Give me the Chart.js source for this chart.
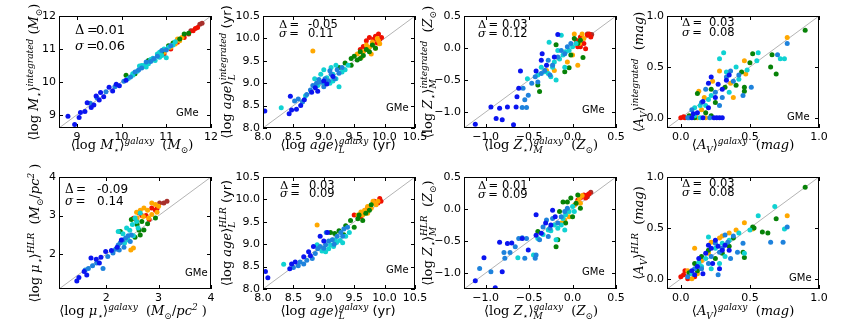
<!DOCTYPE html>
<html>
<head>
<meta charset="utf-8">
<script src="https://cdn.jsdelivr.net/npm/chart.js@4.4.1/dist/chart.umd.min.js"></script>
<style>
  body { margin: 0; background: #fff; }
  #fig { position: relative; width: 845px; height: 323px; overflow: hidden; }
  canvas { position: absolute; }
  .lab { position: absolute; white-space: nowrap; font-family: "DejaVu Serif", serif; font-size: 13px; line-height: 1; color: #000; }
  .lab i { font-style: italic; }
  .lab sup, .lab sub { font-size: 9px; font-style: italic; }
  .ss { display: inline-flex; flex-direction: column; vertical-align: 5px; font-size: 9px; font-style: italic; line-height: 9px; }
  .sans { font-family: "DejaVu Sans", sans-serif; font-style: normal; }
  .note { position: absolute; white-space: nowrap; font-family: "DejaVu Sans", sans-serif; color: #000; line-height: 1; }
  .gme { position: absolute; font-family: "DejaVu Sans", sans-serif; font-size: 10px; color: #000; line-height: 1; }
</style>
</head>
<body>
<div id="fig"></div>
<script>
// colour groups used in every panel
const groupColors = ['#0a14f0', '#1e82dc', '#10d2d2', '#078207', '#ffa800', '#f01000', '#a8302c'];

// axis limits and ticks
const massLim = [8.6, 12];    const massTicks = [9, 10, 11, 12];
const ageLim = [8, 10.5];     const ageTicks = [8, 8.5, 9, 9.5, 10, 10.5];
const zLim = [-1.25, 0.5];    const zTicks = [-1, -0.5, 0, 0.5];
const avLim = [-0.1, 1];      const avTicks = [0, 0.5, 1];
const muLim = [1.1, 4];       const muTicks = [2, 3, 4];

const deltaVals = ['0.01', '-0.05', '0.03', '0.03', '-0.09', '0.03', '0.01', '0.03'];
const sigmaVals = ['0.06', '0.11', '0.12', '0.08', '0.14', '0.09', '0.09', '0.08'];

// points: [galaxy, integrated/HLR, colour group]
const massInt = [
  [8.80,8.96,0],[8.95,8.71,0],[9.05,8.92,0],[9.08,9.07,0],[9.18,9.10,0],[9.23,9.37,0],[9.32,9.22,0],[9.38,9.30,0],
  [9.43,9.57,0],[9.50,9.45,0],[9.53,9.68,0],[9.60,9.55,0],[9.72,9.84,0],[9.80,9.72,0],[9.88,9.93,0],[9.95,9.88,0],[10.10,10.05,0],
  [9.30,9.35,1],[9.45,9.52,1],[9.65,9.70,1],[9.85,9.85,1],[10.05,10.02,1],[10.2,10.15,1],[10.3,10.3,1],[10.45,10.42,1],
  [10.55,10.6,1],[10.65,10.62,1],[10.8,10.78,1],[10.9,10.95,1],[11.0,10.97,1],[11.1,11.1,1],[10.38,10.36,1],[10.72,10.7,1],
  [10.15,10.1,2],[10.25,10.25,2],[10.35,10.32,2],[10.4,10.48,2],[10.5,10.5,2],[10.6,10.55,2],[10.7,10.72,2],[10.75,10.65,2],
  [10.8,10.85,2],[10.85,10.9,2],[10.9,10.8,2],[10.95,11.0,2],[11.0,10.73,2],[10.85,10.75,2],[11.05,11.05,2],[11.15,11.12,2],
  [11.2,11.22,2],[10.55,10.45,2],[10.25,10.2,2],[10.65,10.68,2],[10.45,10.5,2],
  [10.1,10.2,3],[10.3,10.25,3],[10.6,10.65,3],[10.9,10.92,3],[11.05,11.1,3],[11.15,11.18,3],[11.3,11.3,3],[11.4,11.45,3],[11.5,11.48,3],
  [10.95,10.9,4],[11.1,11.05,4],[11.2,11.15,4],[11.25,11.3,4],[11.35,11.35,4],[11.3,11.25,4],
  [10.95,10.85,5],[11.1,11.0,5],[11.25,11.2,5],[11.4,11.35,5],[11.5,11.45,5],[11.6,11.55,5],[11.65,11.62,5],[11.7,11.65,5],
  [11.55,11.55,6],[11.75,11.75,6],[11.8,11.78,6]
];
const ageInt = [
  [8.03,8.38,0],[8.43,8.32,0],[8.47,8.40,0],[8.45,8.71,0],[8.55,8.42,0],[8.62,8.50,0],[8.68,8.63,0],[8.80,8.80,0],
  [8.86,8.90,0],[8.90,8.82,0],[9.0,9.05,0],[9.05,8.98,0],[9.15,9.15,0],
  [8.52,8.60,1],[8.58,8.65,1],[8.65,8.58,1],[8.72,8.75,1],[8.78,8.85,1],[8.82,8.95,1],[8.88,9.0,1],[8.95,9.02,1],[9.0,8.92,1],
  [9.02,9.1,1],[9.08,9.05,1],[9.12,9.2,1],[9.18,9.1,1],[9.22,9.3,1],[9.25,9.22,1],[9.3,9.35,1],[8.92,9.08,1],[9.1,9.28,1],
  [8.3,8.45,2],[8.7,8.72,2],[8.85,9.1,2],[8.9,8.95,2],[8.95,9.2,2],[9.0,9.0,2],[9.05,9.12,2],[9.1,9.0,2],[9.15,9.05,2],
  [9.2,9.1,2],[9.25,8.92,2],[9.12,9.35,2],[9.2,9.4,2],[9.3,9.25,2],[9.35,9.3,2],[9.4,9.4,2],[9.0,9.3,2],[9.15,9.2,2],
  [9.25,9.35,3],[9.35,9.45,3],[9.45,9.55,3],[9.5,9.6,3],[9.55,9.52,3],[9.6,9.7,3],[9.65,9.62,3],[9.7,9.75,3],[9.75,9.7,3],
  [9.8,9.85,3],[9.45,9.4,3],[9.85,9.78,3],[9.6,9.55,3],
  [8.82,9.72,4],[9.55,9.65,4],[9.62,9.58,4],[9.7,9.85,4],[9.75,9.8,4],[9.8,9.92,4],[9.85,9.78,4],[9.9,9.95,4],[9.65,9.7,4],
  [9.78,9.65,4],[9.92,9.88,4],[9.88,10.0,4],
  [9.65,9.82,5],[9.7,9.95,5],[9.75,10.02,5],[9.8,9.88,5],[9.85,10.05,5],[9.9,10.1,5],[9.92,9.98,5],[9.95,10.02,5],[9.82,9.98,5],
  [9.88,9.9,5],[9.6,9.75,5]
];
const zInt = [
  [-1.12,-1.19,0],[-0.94,-0.92,0],[-0.88,-1.10,0],[-0.81,-1.12,0],[-0.84,-0.94,0],[-0.75,-0.92,0],[-0.68,-1.2,0],[-0.65,-0.92,0],
  [-0.64,-0.76,0],[-0.62,-0.63,0],[-0.6,-0.36,0],[-0.42,-0.36,0],[-0.36,-0.19,0],[-0.35,-0.09,0],[-0.17,0.21,0],[-0.21,-0.14,0],[-0.3,-0.27,0],
  [-0.58,-0.93,1],[-0.55,-0.81,1],[-0.57,-0.63,1],[-0.51,-0.74,1],[-0.53,-0.93,1],[-0.43,-0.45,1],[-0.4,-0.53,1],[-0.32,-0.35,1],
  [-0.26,-0.42,1],[-0.23,-0.27,1],[-0.28,-0.19,1],[-0.17,-0.14,1],[-0.13,-0.04,1],[-0.09,-0.09,1],[-0.06,0.02,1],[-0.02,0.07,1],
  [-0.36,-0.4,1],[-0.47,-0.55,1],
  [-0.52,-0.48,2],[-0.27,0.09,2],[-0.13,0.2,2],[-0.23,-0.3,2],[-0.25,-0.45,2],[-0.19,-0.5,2],[-0.28,-0.4,2],[-0.32,-0.37,2],
  [-0.21,-0.22,2],[-0.15,-0.17,2],[-0.11,-0.11,2],[-0.08,-0.06,2],[-0.04,-0.04,2],[0.0,0.02,2],[0.04,0.07,2],[-0.17,-0.04,2],
  [-0.36,-0.3,2],[-0.4,-0.42,2],[-0.09,-0.3,2],
  [-0.19,0.05,3],[-0.4,-0.58,3],[-0.38,-0.68,3],[-0.09,-0.37,3],[-0.04,-0.31,3],[0.09,0.12,3],[0.12,-0.15,3],[0.06,0.07,3],
  [0.02,0.15,3],[-0.02,-0.11,3],
  [-0.3,-0.35,4],[-0.21,-0.35,4],[0.06,-0.27,4],[0.02,0.22,4],[0.11,0.22,4],[0.08,0.07,4],[-0.06,-0.22,4],[0.0,-0.11,4],[0.13,0.15,4],
  [0.04,0.12,5],[0.09,0.17,5],[0.13,0.07,5],[0.17,0.2,5],[0.19,0.22,5],[0.09,0.02,5],[0.15,-0.01,5],[0.06,0.02,5],[0.21,0.17,5],
  [0.17,0.22,6],[0.22,0.21,6]
];
const avInt = [
  [0.28,0,0],[0.3,0,0],[0.26,0,0],[0.24,0,0],[0.2,0.1,0],[0.27,0.33,0],[0.3,0.28,0],[0.35,0.42,0],[0.2,0.34,0],[0.12,0.05,0],
  [0.16,0.16,0],[0.09,0.04,0],[0.22,0.4,0],[0.33,0.37,0],[0.08,0,0],[0.16,0,0],[0.25,0.2,0],
  [0.77,0.73,1],[0.7,0.62,1],[0.51,0.3,1],[0.06,0,1],[0.15,0.15,1],[0.33,0.4,1],[0.38,0.36,1],[0.08,0.08,1],[0.25,0.25,1],
  [0.3,0.2,1],[0.42,0.42,1],[0.45,0.22,1],[0.18,0.28,1],[0.36,0.46,1],[0.21,0,1],[0.05,0,1],[0.28,0.12,1],
  [0.75,0.58,2],[0.72,0.58,2],[0.56,0.64,2],[0.55,0.56,2],[0.31,0.64,2],[0.28,0.58,2],[0.48,0.47,2],[0.1,0.02,2],[0.2,0.18,2],
  [0.33,0.45,2],[0.42,0.38,2],[0.1,0.1,2],[0.22,0.22,2],[0.35,0.25,2],[0.4,0.5,2],[0.14,0.12,2],[0.14,0,2],[0.18,0.12,2],
  [0.9,0.86,3],[0.69,0.43,3],[0.65,0.5,3],[0.66,0.62,3],[0.52,0.63,3],[0.5,0.54,3],[0.46,0.26,3],[0.46,0.3,3],[0.22,0.02,3],
  [0.18,0.05,3],[0.25,0.15,3],[0.4,0.32,3],[0.22,0.28,3],[0.12,0.24,3],[0.44,0.45,3],[0.06,0.02,3],[0.1,0,3],[0.32,0.3,3],
  [0.77,0.79,4],[0.46,0.56,4],[0.47,0.43,4],[0.12,0,4],[0.17,0.2,4],[0.28,0.46,4],[0.36,0.34,4],[0.23,0.36,4],[0.13,0.26,4],
  [0.15,0.08,4],[0.38,0.2,4],[0.18,0,4],
  [0.0,0,5],[0.03,0,5],[0.02,0.01,5]
];
const muHlr = [
  [1.44,1.31,0],[1.48,1.40,0],[1.58,1.55,0],[1.63,1.46,0],[1.71,1.90,0],[1.81,1.87,0],[1.90,1.92,0],[1.99,2.07,0],[2.10,2.10,0],
  [1.87,1.77,0],[2.21,2.18,0],[2.29,2.37,0],
  [1.60,1.59,1],[1.66,1.63,1],[1.74,1.70,1],[1.82,1.77,1],[1.94,1.63,1],[2.03,1.94,1],[2.13,2.03,1],[2.18,2.13,1],[2.23,2.24,1],
  [2.27,2.30,1],[2.32,2.37,1],[2.37,2.42,1],[2.42,2.48,1],[2.46,2.33,1],[2.34,2.18,1],[2.25,2.11,1],[2.48,2.5,1],
  [2.23,2.59,2],[2.32,2.53,2],[2.39,2.68,2],[2.45,2.62,2],[2.52,2.48,2],[2.50,2.77,2],[2.58,2.85,2],[2.42,2.37,2],[2.35,2.29,2],
  [2.61,2.68,2],[2.55,2.94,2],[2.65,3.07,2],
  [2.27,2.59,3],[2.55,2.44,3],[2.59,2.77,3],[2.63,2.62,3],[2.68,2.85,3],[2.72,2.63,3],[2.79,2.79,3],[2.94,2.94,3],[2.65,2.50,3],[2.48,2.90,3],
  [2.52,2.16,4],[2.47,2.11,4],[2.59,2.94,4],[2.58,3.09,4],[2.65,3.14,4],[2.72,3.2,4],[2.79,3.14,4],[2.87,3.03,4],[2.97,3.09,4],
  [3.0,3.24,4],[2.87,3.33,4],[2.94,3.29,4],[2.81,2.94,4],[2.71,2.98,4],
  [2.52,2.93,5],[2.58,2.90,5],[2.68,3.0,5],[2.76,3.0,5],[2.82,2.90,5],[2.87,3.2,5],[2.94,3.14,5],[2.97,3.18,5],[2.63,3.07,5],
  [3.02,3.33,6],[3.10,3.33,6],[3.16,3.37,6]
];
const ageHlr = [
  [8.04,8.39,0],[8.08,8.25,0],[8.44,8.45,0],[8.47,8.56,0],[8.53,8.60,0],[8.67,8.72,0],[8.75,8.83,0],[8.78,8.74,0],[8.83,8.95,0],
  [8.94,9.18,0],[9.0,9.07,0],[9.06,9.26,0],
  [8.5,8.48,1],[8.58,8.52,1],[8.61,8.60,1],[8.67,8.56,1],[8.72,8.64,1],[8.81,8.68,1],[8.86,8.79,1],[8.9,8.9,1],[8.94,8.95,1],
  [9.0,8.91,1],[9.03,8.99,1],[9.08,9.07,1],[9.14,9.1,1],[9.17,9.0,1],[9.22,9.18,1],[9.28,9.26,1],[9.31,9.18,1],[9.33,9.34,1],
  [9.39,9.38,1],[9.04,9.26,1],
  [8.34,8.55,2],[8.89,8.99,2],[8.97,8.85,2],[9.03,8.83,2],[9.08,8.9,2],[9.11,8.99,2],[9.16,8.95,2],[9.21,9.04,2],[9.27,9.08,2],
  [9.31,9.03,2],[9.36,9.18,2],[9.42,9.26,2],[9.19,9.1,2],
  [9.11,9.26,3],[9.18,9.24,3],[9.25,9.3,3],[9.33,9.21,3],[9.36,9.41,3],[9.44,9.53,3],[9.5,9.38,3],[9.56,9.57,3],[9.64,9.53,3],
  [9.69,9.69,3],[9.75,9.76,3],[9.58,9.65,3],[9.78,9.88,3],
  [8.89,9.43,4],[9.56,9.65,4],[9.61,9.72,4],[9.67,9.76,4],[9.72,9.84,4],[9.78,9.8,4],[9.83,9.92,4],[9.86,9.88,4],[9.89,9.96,4],
  [9.81,9.96,4],[9.72,9.69,4],[9.64,9.65,4],
  [9.5,9.65,5],[9.61,9.61,5],[9.72,9.8,5],[9.83,9.96,5],[9.92,10.02,5],[9.89,9.92,5],[9.94,9.96,5]
];
const zHlr = [
  [-1.12,-1.12,0],[-1.02,-0.76,0],[-0.89,-1.23,0],[-0.84,-0.52,0],[-0.81,-0.98,0],[-0.75,-0.54,0],[-0.7,-0.53,0],[-0.58,-0.46,0],
  [-0.51,-0.64,0],[-0.42,-0.41,0],[-0.36,-0.38,0],[-0.42,-0.09,0],[-0.25,-0.25,0],[-0.2,-0.12,0],[-0.23,-0.02,0],[-0.31,-0.22,0],
  [-1.07,-0.93,1],[-0.94,-0.98,1],[-0.79,-0.68,1],[-0.78,-0.77,1],[-0.72,-0.68,1],[-0.66,-0.59,1],[-0.62,-0.46,1],[-0.58,-0.45,1],
  [-0.53,-0.46,1],[-0.55,-0.77,1],[-0.43,-0.77,1],[-0.42,-0.72,1],[-0.34,-0.28,1],[-0.3,-0.17,1],[-0.26,-0.30,1],[-0.23,-0.15,1],
  [-0.17,-0.22,1],[-0.13,-0.12,1],[-0.09,-0.04,1],[-0.06,0.01,1],[-0.38,-0.48,1],[-0.28,-0.43,1],
  [-0.63,-0.76,2],[-0.4,-0.46,2],[-0.34,-0.4,2],[-0.28,-0.33,2],[-0.25,-0.34,2],[-0.21,-0.25,2],[-0.19,-0.48,2],[-0.17,-0.3,2],
  [-0.13,-0.25,2],[-0.11,-0.15,2],[-0.08,-0.09,2],[-0.04,-0.04,2],[0.0,0.04,2],[0.02,-0.04,2],[-0.09,-0.33,2],[-0.45,-0.72,2],
  [-0.4,-0.35,3],[-0.19,-0.59,3],[-0.17,-0.48,3],[-0.15,-0.04,3],[-0.11,0.11,3],[-0.06,0.11,3],[-0.02,0.17,3],[0.06,0.22,3],
  [0.04,0.09,3],[0.09,0.01,3],[0.0,-0.12,3],[-0.08,-0.22,3],
  [-0.13,-0.22,4],[-0.09,-0.17,4],[-0.04,-0.12,4],[0.02,0.06,4],[0.06,0.11,4],[0.08,0.17,4],[0.11,0.21,4],[0.09,0.09,4],[-0.06,-0.04,4],
  [0.13,0.22,5],[0.17,0.22,5],[0.19,0.24,5],[0.09,0.17,5],[0.06,0.14,5],[0.15,0.17,5],
  [0.21,0.26,6],[0.17,0.19,6]
];
const avHlr = [
  [0.13,0.2,0],[0.2,0.33,0],[0.25,0.38,0],[0.27,0.32,0],[0.3,0.28,0],[0.18,0.25,0],[0.23,0.15,0],[0.32,0.33,0],[0.12,0.12,0],
  [0.08,0.08,0],[0.16,0.05,0],[0.28,0.1,0],[0.35,0.28,0],[0.22,0.3,0],[0.1,0.04,0],
  [0.77,0.51,1],[0.74,0.36,1],[0.65,0.36,1],[0.41,0.26,1],[0.36,0.2,1],[0.27,0.04,1],[0.32,0.43,1],[0.38,0.42,1],[0.45,0.35,1],
  [0.25,0.35,1],[0.2,0.15,1],[0.15,0.1,1],[0.3,0.3,1],[0.1,0.1,1],[0.05,0.02,1],[0.22,0.22,1],[0.28,0.26,1],[0.34,0.36,1],
  [0.68,0.71,2],[0.75,0.49,2],[0.56,0.62,2],[0.46,0.25,2],[0.2,0.41,2],[0.3,0.35,2],[0.25,0.3,2],[0.18,0.2,2],[0.35,0.38,2],
  [0.42,0.45,2],[0.15,0.12,2],[0.28,0.15,2],[0.08,0.05,2],[0.22,0.1,2],[0.32,0.22,2],[0.5,0.48,2],[0.13,0.16,2],
  [0.9,0.9,3],[0.69,0.59,3],[0.63,0.45,3],[0.59,0.46,3],[0.53,0.5,3],[0.52,0.51,3],[0.46,0.21,3],[0.45,0.26,3],[0.3,0.25,3],
  [0.15,0.22,3],[0.1,0.15,3],[0.2,0.28,3],[0.25,0.2,3],[0.12,0.08,3],[0.35,0.32,3],[0.38,0.4,3],[0.06,0.06,3],
  [0.77,0.62,4],[0.46,0.55,4],[0.52,0.49,4],[0.4,0.48,4],[0.3,0.42,4],[0.22,0.36,4],[0.1,0.3,4],[0.12,0.05,4],[0.2,0.25,4],
  [0.28,0.4,4],[0.35,0.45,4],[0.05,0.08,4],[0.15,0.18,4],[0.08,0.0,4],
  [0.0,0.02,5],[0.02,0.04,5],[0.05,0.0,5],[0.03,0.08,5],[0.06,0.05,5],[0.1,0.02,5]
];

// axis-label pieces
const LOGM = '⟨log <i>M</i><sub>⋆</sub>⟩';
const LOGAGE = '⟨log <i>age</i>⟩';
const LOGZ = '⟨log <i>Z</i><sub>⋆</sub>⟩';
const AV = '⟨<i>A</i><sub>V</sub>⟩';
const LOGMU = '⟨log <i>μ</i><sub>⋆</sub>⟩';
const MSUN = '(<i>M</i><sub>⊙</sub>)';
const ZSUN = '(<i>Z</i><sub>⊙</sub>)';
const MAG = '(<i>mag</i>)';
const YR = '<span class="sans">(yr)</span>';
const MUU = '(<i>M</i><sub>⊙</sub>/<i>pc</i><sup>2</sup> )';
const ss = (a, b) => '<span class="ss"><span>' + a + '</span><span>' + b + '</span></span>';

const BOXW = 152, BOXH = 112, PADL = 36, PADR = 14, PADT = 8, PADB = 16;

const panels = [
  { pts: massInt, lim: massLim, ticks: massTicks, dec: 0, box: [59, 16],
    xl: LOGM + '<sup>galaxy</sup> &nbsp;' + MSUN, yl: LOGM + '<sup>integrated</sup> ' + MSUN,
    xc: [132, 146], yc: [35, 72], d: [75, 96, 29, 45, 13], g: [176, 108] },
  { pts: ageInt, lim: ageLim, ticks: ageTicks, dec: 1, box: [263, 16],
    xl: LOGAGE + ss('galaxy', 'L') + ' ' + YR, yl: LOGAGE + ss('integrated', 'L') + ' ' + YR,
    xc: [338, 146], yc: [228, 72], d: [279, 308, 25, 34, 11.5], g: [386, 103] },
  { pts: zInt, lim: zLim, ticks: zTicks, dec: 1, box: [464, 16],
    xl: LOGZ + ss('galaxy', 'M') + ' &nbsp;' + ZSUN, yl: LOGZ + ss('integrated', 'M') + ' &nbsp;' + ZSUN,
    xc: [541, 146], yc: [429, 72], d: [478, 502, 25, 34, 11.5], g: [582, 105] },
  { pts: avInt, lim: avLim, ticks: avTicks, dec: 1, box: [667, 16],
    xl: AV + '<sup>galaxy</sup> &nbsp;' + MAG, yl: AV + '<sup>integrated</sup> &nbsp;' + MAG,
    xc: [743, 146], yc: [640, 72], d: [682, 709, 23, 33, 11.5], g: [787, 112] },
  { pts: muHlr, lim: muLim, ticks: muTicks, dec: 0, box: [59, 177],
    xl: LOGMU + '<sup>galaxy</sup> &nbsp;' + MUU, yl: LOGMU + '<sup>HLR</sup> &nbsp;' + MUU,
    xc: [133, 312], yc: [36, 233], d: [65, 97, 189, 201, 12], g: [185, 268] },
  { pts: ageHlr, lim: ageLim, ticks: ageTicks, dec: 1, box: [263, 177],
    xl: LOGAGE + ss('galaxy', 'L') + ' ' + YR, yl: LOGAGE + ss('HLR', 'L') + ' ' + YR,
    xc: [338, 312], yc: [228, 233], d: [280, 309, 186, 194, 11.5], g: [386, 265] },
  { pts: zHlr, lim: zLim, ticks: zTicks, dec: 1, box: [464, 177],
    xl: LOGZ + ss('galaxy', 'M') + ' &nbsp;' + ZSUN, yl: LOGZ + ss('HLR', 'M') + ' &nbsp;' + ZSUN,
    xc: [541, 312], yc: [429, 233], d: [478, 502, 186, 195, 11.5], g: [582, 267] },
  { pts: avHlr, lim: avLim, ticks: avTicks, dec: 1, box: [667, 177],
    xl: AV + '<sup>galaxy</sup> &nbsp;' + MAG, yl: AV + '<sup>HLR</sup> &nbsp;' + MAG,
    xc: [743, 312], yc: [640, 233], d: [682, 709, 184, 193, 11.5], g: [789, 273] }
];

const fmt = (v, dec) => (v < 0 ? '−' : '') + Math.abs(v).toFixed(dec);

// frame and inward tick marks, like the original figure
const framePlugin = {
  id: 'frame',
  afterDraw(chart) {
    const { ctx, chartArea: a, scales } = chart;
    ctx.save();
    ctx.strokeStyle = '#000';
    ctx.lineWidth = 1;
    ctx.strokeRect(Math.round(a.left) + 0.5, Math.round(a.top) + 0.5, Math.round(a.width) - 1, Math.round(a.height) - 1);
    ctx.beginPath();
    scales.x.ticks.forEach(t => {
      const px = Math.round(scales.x.getPixelForValue(t.value)) + 0.5;
      ctx.moveTo(px, a.bottom); ctx.lineTo(px, a.bottom - 4);
      ctx.moveTo(px, a.top); ctx.lineTo(px, a.top + 4);
    });
    scales.y.ticks.forEach(t => {
      const py = Math.round(scales.y.getPixelForValue(t.value)) + 0.5;
      ctx.moveTo(a.left, py); ctx.lineTo(a.left + 4, py);
      ctx.moveTo(a.right, py); ctx.lineTo(a.right - 4, py);
    });
    ctx.stroke();
    ctx.restore();
  }
};

const fig = document.getElementById('fig');

function addDiv(cls, html, left, top, style) {
  const d = document.createElement('div');
  d.className = cls;
  d.innerHTML = html;
  d.style.left = left + 'px';
  d.style.top = top + 'px';
  if (style) Object.assign(d.style, style);
  fig.appendChild(d);
  return d;
}

panels.forEach((p, i) => {
  const c = document.createElement('canvas');
  c.width = BOXW + PADL + PADR;
  c.height = BOXH + PADT + PADB;
  c.style.left = (p.box[0] - PADL) + 'px';
  c.style.top = (p.box[1] - PADT) + 'px';
  fig.appendChild(c);

  const datasets = [{
    type: 'line',
    data: [{ x: p.lim[0], y: p.lim[0] }, { x: p.lim[1], y: p.lim[1] }],
    borderColor: '#b4b4b4', borderWidth: 1, pointRadius: 0, order: 10
  }];
  groupColors.forEach((col, g) => {
    const pts = p.pts.filter(q => q[2] === g).map(q => ({ x: q[0], y: q[1] }));
    if (pts.length) datasets.push({
      type: 'scatter', data: pts, backgroundColor: col, borderWidth: 0, pointRadius: 2.5, order: 1
    });
  });

  const axis = (isX) => ({
    type: 'linear', min: p.lim[0], max: p.lim[1],
    afterBuildTicks: s => { s.ticks = p.ticks.map(v => ({ value: v })); },
    afterFit: s => {
      if (isX) s.height = PADB; else s.width = PADL;
      s.paddingLeft = s.paddingRight = s.paddingTop = s.paddingBottom = 0;
    },
    grid: { display: false, drawTicks: false },
    border: { display: false },
    ticks: {
      autoSkip: false, maxRotation: 0, padding: 3, color: '#000',
      font: { family: 'DejaVu Sans', size: 11 },
      callback: v => fmt(v, p.dec)
    }
  });

  new Chart(c.getContext('2d'), {
    type: 'scatter',
    data: { datasets },
    options: {
      responsive: false, animation: false,
      layout: { padding: { top: PADT, right: PADR, left: 0, bottom: 0 } },
      plugins: { legend: { display: false }, tooltip: { enabled: false } },
      scales: { x: axis(true), y: axis(false) }
    },
    plugins: [framePlugin]
  });

  const xl = addDiv('lab', p.xl, p.xc[0], p.xc[1]);
  xl.style.transform = 'translate(-50%, -50%)';
  const yl = addDiv('lab', p.yl, p.yc[0], p.yc[1]);
  yl.style.transform = 'translate(-50%, -50%) rotate(-90deg)';

  const fs = p.d[4];
  addDiv('note', '<span style="font-family:DejaVu Serif">Δ&thinsp;=</span>', p.d[0], p.d[2] - fs / 2, { fontSize: fs + 'px' });
  addDiv('note', deltaVals[i], p.d[1], p.d[2] - fs / 2, { fontSize: fs + 'px' });
  addDiv('note', '<span style="font-family:DejaVu Serif;font-style:italic">σ</span><span style="font-family:DejaVu Serif">&thinsp;=</span>', p.d[0], p.d[3] - fs / 2, { fontSize: fs + 'px' });
  addDiv('note', sigmaVals[i], p.d[1], p.d[3] - fs / 2, { fontSize: fs + 'px' });
  addDiv('gme', 'GMe', p.g[0], p.g[1]);
});
</script>
</body>
</html>
